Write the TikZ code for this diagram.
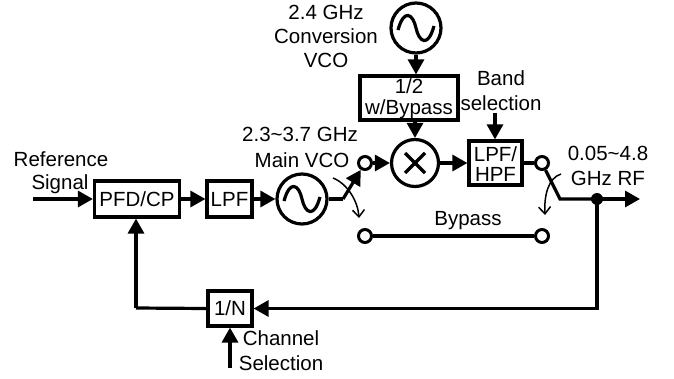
\documentclass[tikz,border=0pt]{standalone}
\usepackage{fontspec}
\setmainfont{Liberation Sans}
\usetikzlibrary{arrows.meta,calc}
\tikzset{
  blockbox/.style={draw,line width=3.2pt,minimum width=#1,inner sep=0pt,align=center},
  lbl/.style={inner sep=0pt,align=center,font=\fontsize{20.5}{25}\selectfont},
  blk/.style={lbl},
  sw/.style={circle,draw,line width=3pt,fill=white,minimum size=13pt,inner sep=0pt},
  osc/.style={circle,draw,line width=3.2pt,minimum size=50pt,inner sep=0pt},
  dotn/.style={circle,fill=black,minimum size=12pt,inner sep=0pt},
  wire/.style={line width=3.2pt},
  arr/.style={wire,-{Triangle[length=15pt,width=16pt]}},
  curv/.style={line width=1.5pt,-{Straight Barb[length=7pt,width=12pt]}},
}
\begin{document}
\begin{tikzpicture}[x=1pt,y=-1pt]
\useasboundingbox (0,0) rectangle (674,378);
% blocks
\node[blk,blockbox=85pt,minimum height=36pt] (pfd) at (137,199) {PFD/CP};
\node[blk,blockbox=45pt,minimum height=36pt] (lpf) at (229.5,199) {LPF};
\node[osc] (mvco) at (302,199) {};
\node[osc] (cvco) at (416,28) {};
\node[blk,blockbox=98pt,minimum height=44pt] (div) at (409,98) {};
\node[lbl] (divt) at (409,99) {1/2\\[-4pt]w/Bypass};
\node[circle,draw,line width=3.2pt,minimum size=47pt,inner sep=0pt] (mix) at (415,163) {};
\node[blk,blockbox=53pt,minimum height=44pt] (flt) at (495.5,163) {};
\node[lbl] (fltt) at (495.5,164) {LPF/\\[-5pt]HPF};
\node[blk,blockbox=44pt,minimum height=35pt] (ndiv) at (230,308.5) {1/N};
% sine waves and mixer cross
\foreach \c in {mvco,cvco}
  \draw[wire] ($(\c)+(-18,2)$) .. controls ($(\c)+(-12,-20)$) and ($(\c)+(-3,-14)$) .. (\c.center)
     .. controls ($(\c)+(3,14)$) and ($(\c)+(12,20)$) .. ($(\c)+(18,-2)$);
\draw[wire] ($(mix)+(-10,-10)$) -- ($(mix)+(10,10)$);
\draw[wire] ($(mix)+(-10,10)$) -- ($(mix)+(10,-10)$);
% switch terminals
\node[sw] (s1) at (365,163) {};
\node[sw] (s2) at (542,163) {};
\node[sw] (b1) at (365,236) {};
\node[sw] (b2) at (542,236) {};
\coordinate (k1) at (343,199);
\coordinate (k2) at (560,199);
\coordinate (rfin) at (33,199);
\coordinate (rfout) at (640,199);
\coordinate (chan) at (230,368);
\coordinate (band) at (495,113);
\node[dotn] (tap) at (597,199) {};
\coordinate (left) at (136,308);
% connectors
\draw[arr] (rfin) -- (pfd.west);
\draw[arr] (pfd.east) -- (lpf.west);
\draw[arr] (lpf.east) -- (mvco.west);
\draw[wire] (mvco.east) -- (k1);
\draw[arr] (k1) -- (s1);
\draw[arr] (s1) -- (mix.west);
\draw[arr] (cvco.south) -- (cvco.south |- div.north);
\draw[arr] (mix.north |- div.south) -- (mix.north);
\draw[arr] (mix.east) -- (flt.west);
\draw[arr] (band) -- (flt.north -| band);
\draw[wire] (flt.east) -- (s2);
\draw[wire] (s2) -- (k2) -- (tap.center);
\draw[arr] (tap.center) -- (rfout);
\draw[wire] (b1) -- (b2);
\draw[arr] (tap.center) |- (ndiv.east);
\draw[wire] (ndiv.west) -- (left);
\draw[arr] (left) -- (left |- pfd.south);
\draw[arr] (chan) -- (ndiv.south);
% switch throw arcs
\draw[curv] (333,178) .. controls (348,184) and (358,202) .. (359,218);
\draw[curv] (561,174) .. controls (548,178) and (544,196) .. (545,215);
% labels
\node[lbl] (t1) at (61,159) {Reference};
\node[lbl] (t2) at (60,184) {Signal};
\node[lbl] (t3) at (300,134) {2.3\textasciitilde3.7 GHz};
\node[lbl] (t4) at (302,160) {Main VCO};
\node[lbl] (t5) at (326,12) {2.4 GHz};
\node[lbl] (t6) at (326,36) {Conversion};
\node[lbl] (t7) at (326,60) {VCO};
\node[lbl] (t8) at (501,78) {Band};
\node[lbl] (t9) at (501,103) {selection};
\node[lbl] (t10) at (608,153) {0.05\textasciitilde4.8};
\node[lbl] (t11) at (608,178) {GHz RF};
\node[lbl] (t12) at (468,221) {Bypass};
\node[lbl] (t13) at (281,338) {Channel};
\node[lbl] (t14) at (281,363) {Selection};
\end{tikzpicture}
\end{document}
